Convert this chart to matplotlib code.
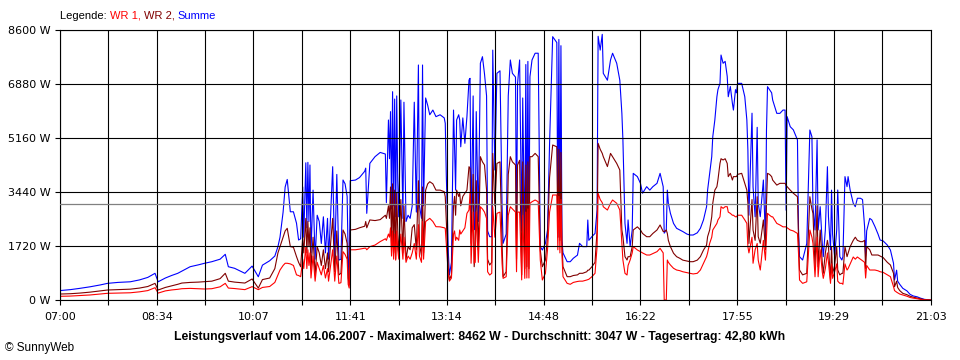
import matplotlib
matplotlib.use("Agg")
import matplotlib.pyplot as plt

plt.rcParams["font.family"] = ["DejaVu Sans"]

# Zeit in Minuten ab 07:00
t_min = [
    0, 10, 19, 29, 39, 46, 56, 68, 77, 85,
    92, 95, 102, 108, 114, 118, 126, 134, 140, 147,
    155, 160, 163, 169, 179, 186, 192, 196, 203, 208,
    211, 213, 216, 218, 220, 223, 226, 229, 231, 233,
    235, 236, 238, 239, 240, 241, 242, 243, 245, 247,
    249, 251, 253, 255, 257, 259, 260, 262, 264, 266,
    268, 270, 272, 274, 276, 278, 279, 280, 281, 286,
    290, 295, 296, 297, 300, 305, 310, 315, 316, 318,
    319, 320, 321, 322, 323, 324, 325, 326, 327, 328,
    330, 332, 333, 335, 337, 339, 341, 343, 345, 347,
    348, 350, 351, 352, 354, 356, 358, 361, 364, 368,
    372, 373, 374, 376, 377, 379, 381, 382, 383, 384,
    386, 387, 388, 390, 392, 394, 396, 397, 398, 400,
    401, 402, 403, 405, 407, 409, 411, 413, 414, 416,
    418, 419, 421, 423, 426, 428, 429, 432, 434, 436,
    438, 441, 442, 443, 445, 447, 448, 450, 451, 452,
    453, 454, 455, 457, 460, 463, 465, 467, 470, 472,
    474, 477, 481, 482, 483, 484, 485, 486, 487, 491,
    494, 497, 501, 503, 506, 510, 511, 512, 515, 518,
    520, 521, 523, 525, 526, 530, 533, 535, 539, 542,
    544, 545, 547, 549, 550, 552, 554, 555, 559, 562,
    564, 568, 571, 574, 578, 581, 584, 585, 587, 588,
    589, 591, 594, 597, 600, 603, 607, 610, 613, 617,
    620, 623, 626, 627, 629, 631, 632, 634, 636, 637,
    639, 640, 642, 644, 646, 647, 649, 651, 652, 654,
    655, 656, 660, 663, 665, 666, 667, 670, 671, 673,
    675, 676, 678, 681, 683, 684, 685, 687, 689, 690,
    694, 697, 700, 702, 703, 704, 707, 710, 714, 715,
    716, 719, 723, 726, 728, 729, 731, 733, 734, 736,
    738, 739, 741, 743, 744, 746, 747, 748, 750, 752,
    753, 755, 757, 758, 760, 762, 763, 765, 768, 770,
    772, 775, 777, 779, 780, 781, 784, 786, 789, 792,
    794, 797, 801, 804, 807, 808, 810, 811, 813, 816,
    820, 823, 826, 830, 833, 837, 843,
]

summe = [
    300, 330, 370, 420, 480, 530, 560, 580, 640, 720,
    850, 580, 700, 780, 850, 920, 1060, 1120, 1170, 1220,
    1300, 1455, 1060, 1010, 850, 1080, 740, 1110, 1250, 1400,
    1700, 2000, 2800, 3600, 3840, 2810, 2810, 2443, 1911, 1950,
    3600, 2000, 4370, 2300, 4385, 2500, 4300, 1500, 3500, 1300,
    2700, 2500, 1800, 2650, 1500, 2600, 1300, 2700, 4246, 1300,
    4000, 1270, 1300, 3822, 3700, 3300, 1400, 550, 3800, 3820,
    3900, 4100, 4200, 2760, 4353, 4565, 4700, 4650, 3100, 5733,
    4500, 6000, 2900, 6635, 3000, 6400, 2650, 6500, 3800, 2650,
    6370, 2600, 6300, 2500, 2700, 2600, 3000, 6300, 2800, 7485,
    3000, 2600, 7485, 3000, 6435, 6200, 5900, 6050, 5840, 5900,
    5800, 5628, 3980, 1500, 800, 1200, 6050, 4880, 3500, 5733,
    5900, 5733, 4880, 5800, 4990, 5850, 7007, 7060, 2230, 6500,
    2300, 2230, 6000, 2500, 7540, 7750, 7200, 6500, 2200, 2016,
    2016, 7960, 4140, 7220, 7300, 3000, 1805, 2100, 6500, 7645,
    7220, 7100, 2200, 6900, 7645, 2200, 6435, 1600, 7500, 1700,
    7600, 1700, 7113, 7645, 7860, 7860, 1700, 1592, 1805, 2230,
    4990, 8387, 8200, 2000, 8300, 2000, 8100, 1900, 1500, 1220,
    1220, 1330, 1430, 1805, 1700, 1700, 2548, 1900, 2020, 2120,
    2866, 8400, 7960, 8462, 7220, 7000, 7645, 7860, 7540, 7000,
    5945, 5100, 2440, 1805, 2550, 1700, 2230, 4034, 3930, 3716,
    3400, 3610, 3500, 3610, 3716, 4034, 3610, 2130, 2230, 3500,
    3080, 2760, 2440, 2283, 2230, 2180, 2100, 2070, 2070, 2140,
    2283, 2550, 2972, 3500, 4034, 4565, 5200, 5733, 6475, 6700,
    6900, 7803, 7540, 7600, 7120, 6475, 6800, 6265, 6050, 6700,
    6600, 6900, 6900, 6475, 5733, 4780, 2700, 5950, 3600, 2650,
    5500, 3080, 2654, 3822, 1910, 5400, 6795, 6700, 6600, 6370,
    5945, 5945, 6050, 6050, 2860, 5840, 5520, 5420, 5100, 2280,
    1380, 1274, 1800, 5415, 5200, 2972, 2230, 5100, 2230, 2972,
    1805, 1380, 2230, 4246, 2654, 1600, 3500, 2100, 1380, 2230,
    3504, 1380, 1274, 1380, 3930, 3610, 3930, 3504, 3080, 2972,
    3240, 3240, 3200, 2335, 1400, 2200, 2600, 2550, 2340, 2100,
    1911, 1880, 1750, 1593, 1168, 637, 950, 600, 500, 372,
    290, 180, 130, 100, 60, 20, 0,
]

wr2 = [
    190, 200, 220, 250, 290, 318, 330, 345, 380, 430,
    530, 318, 400, 450, 500, 540, 560, 570, 583, 600,
    680, 850, 600, 570, 540, 670, 380, 650, 700, 1000,
    1500, 1700, 2000, 2200, 2283, 1700, 1680, 1380, 1200, 1060,
    2000, 1500, 2600, 1500, 2500, 1700, 2300, 1000, 2000, 800,
    1700, 1500, 1100, 1600, 1000, 1500, 900, 1800, 2600, 900,
    2200, 800, 850, 2230, 2100, 1800, 700, 480, 2230, 2250,
    2300, 2350, 2500, 2300, 2550, 2530, 2560, 2700, 2600, 3000,
    2600, 3600, 1700, 3700, 1500, 3500, 1300, 3400, 2200, 1400,
    3200, 1500, 3000, 1300, 1700, 1600, 2300, 2400, 1600, 3800,
    1800, 1400, 3600, 1500, 3500, 3700, 3768, 3700, 3500, 3500,
    3450, 3290, 2500, 1000, 640, 800, 3000, 3300, 2700, 3500,
    3300, 3400, 3000, 3300, 3397, 3500, 4246, 4193, 1805, 4000,
    1060, 1500, 3800, 1600, 4565, 4400, 4300, 3500, 1300, 1115,
    1200, 4670, 3000, 4350, 4400, 1805, 743, 900, 4000, 4565,
    4400, 4300, 1300, 4300, 4450, 800, 4400, 1000, 4300, 1060,
    4400, 1000, 4565, 4565, 4670, 4565, 1593, 1060, 1274, 2020,
    3900, 4937, 4880, 2000, 4800, 1900, 4700, 1800, 1060, 743,
    743, 780, 800, 850, 850, 900, 950, 950, 1060, 1200,
    2230, 4990, 4800, 4670, 4565, 4250, 4670, 4565, 4350, 4140,
    2230, 2020, 1380, 1274, 1380, 1380, 1700, 2230, 2330, 2230,
    2120, 2016, 2016, 2120, 2230, 2390, 2180, 2180, 2230, 2120,
    1900, 1700, 1490, 1380, 1330, 1270, 1240, 1220, 1220, 1270,
    1380, 1590, 1750, 2016, 2230, 2650, 3080, 3500, 3610, 3822,
    4353, 4500, 4460, 4500, 4350, 3930, 4034, 3822, 3930, 3930,
    3930, 4000, 4034, 3716, 3500, 3080, 1800, 3200, 2230, 1900,
    3290, 2016, 1805, 2550, 1600, 3080, 4034, 4000, 3930, 3820,
    3660, 3716, 3716, 3716, 3650, 3610, 3500, 3400, 3290, 2000,
    955, 800, 850, 3290, 2900, 2760, 1060, 3000, 1060, 2230,
    1200, 850, 1500, 1900, 1700, 637, 1700, 850, 1100, 1700,
    955, 800, 850, 850, 1700, 1380, 1490, 1700, 1900, 2000,
    1900, 1858, 1858, 1900, 1000, 1700, 1600, 1433, 1433, 1433,
    1400, 1350, 1200, 1115, 850, 425, 600, 400, 300, 212,
    170, 120, 90, 60, 40, 10, 0,
]

wr1 = [
    118, 125, 140, 160, 190, 213, 220, 230, 260, 300,
    392, 220, 290, 320, 340, 360, 370, 360, 350, 360,
    420, 530, 380, 365, 330, 425, 330, 400, 430, 560,
    800, 955, 1100, 1170, 1170, 1150, 1100, 800, 780, 743,
    1300, 1000, 1700, 1000, 1600, 1100, 1500, 700, 1400, 600,
    1200, 1000, 800, 1100, 700, 1000, 600, 1100, 1600, 600,
    1400, 530, 550, 1540, 1450, 1300, 500, 380, 1600, 1600,
    1620, 1650, 1650, 1600, 1700, 1750, 1860, 1950, 1900, 2100,
    2000, 2300, 1400, 2200, 1300, 2100, 1270, 2200, 1600, 1300,
    2100, 1300, 2000, 1200, 1400, 1300, 1500, 1800, 1300, 2400,
    1400, 1200, 2500, 1300, 2500, 2550, 2600, 2500, 2335, 2330,
    2300, 2283, 1800, 800, 600, 700, 2100, 2200, 1900, 2000,
    1900, 2230, 2100, 2200, 2300, 2760, 2866, 3397, 1170, 2800,
    1170, 1200, 2800, 1200, 2970, 2900, 2800, 2600, 900, 796,
    850, 2970, 2000, 2760, 2800, 1170, 690, 743, 2700, 2970,
    2900, 2800, 900, 2800, 2800, 640, 2700, 690, 2800, 700,
    2900, 700, 3080, 3130, 3185, 3130, 1274, 637, 850, 1600,
    2800, 3344, 3344, 1600, 3300, 1500, 3200, 1400, 743, 531,
    500, 560, 590, 600, 600, 637, 650, 660, 743, 850,
    1700, 3397, 3200, 3100, 2970, 2866, 3080, 3185, 3080, 2866,
    1805, 1274, 850, 796, 1100, 1274, 1500, 1700, 1593, 1540,
    1500, 1433, 1433, 1480, 1540, 1645, 1500, 0, 0, 1274,
    1200, 1115, 1010, 955, 935, 900, 870, 850, 830, 850,
    955, 1170, 1380, 1500, 1805, 2000, 2230, 2335, 2440, 2550,
    2650, 2972, 2920, 2972, 2972, 2800, 2760, 2700, 2700, 2650,
    2650, 2700, 2700, 2550, 2440, 1700, 1500, 2000, 1170, 1600,
    1800, 1270, 955, 1900, 1270, 2020, 2760, 2700, 2650, 2650,
    2440, 2390, 2330, 2330, 2330, 2300, 2230, 2200, 2120, 1500,
    637, 530, 580, 2230, 2000, 1805, 740, 2000, 740, 1600,
    900, 690, 1000, 1500, 1200, 531, 1150, 690, 900, 1150,
    600, 531, 531, 500, 1150, 955, 1000, 1150, 1370, 1300,
    1370, 1300, 1250, 1200, 700, 1100, 955, 955, 955, 930,
    900, 880, 800, 743, 425, 300, 250, 230, 190, 160,
    120, 80, 60, 40, 20, 5, 0,
]

durchschnitt = 3047
x_labels = ["07:00", "08:34", "10:07", "11:41", "13:14",
            "14:48", "16:22", "17:55", "19:29", "21:03"]
y_ticks = [0, 1720, 3440, 5160, 6880, 8600]
dauer = 843  # 07:00 - 21:03

titel = ("Leistungsverlauf vom 14.06.2007 - Maximalwert: 8462 W - "
         "Durchschnitt: 3047 W - Tagesertrag: 42,80 kWh")
TXT_FONT = ["Liberation Sans", "DejaVu Sans"]

fig = plt.figure(figsize=(9.6, 3.6), dpi=100)
ax = fig.add_axes([60 / 960, 60 / 360, 870.7 / 960, 270 / 360])

ax.plot(t_min, summe, color="#0000FF", lw=0.8, zorder=1.5)
ax.plot(t_min, wr2, color="#800000", lw=0.8, zorder=1.6)
ax.plot(t_min, wr1, color="#FF0000", lw=0.8, zorder=1.7)
ax.axhline(durchschnitt, color="#808080", lw=0.9, zorder=2.6)

ax.set_xlim(0, dauer)
ax.set_ylim(0, 8600)
step = dauer / (len(x_labels) - 1)
ax.set_xticks([i * step for i in range(len(x_labels))])
ax.set_xticklabels(x_labels)
ax.set_xticks([(i + 0.5) * step for i in range(len(x_labels) - 1)], minor=True)
ax.set_yticks(y_ticks)
ax.set_yticklabels([f"{v} W" for v in y_ticks])

ax.set_axisbelow(False)
ax.grid(True, which="both", color="black", lw=0.8)
ax.tick_params(which="both", direction="out", length=3.8, width=0.8,
               color="black", labelsize=8)
ax.tick_params(axis="x", pad=5)
ax.tick_params(axis="y", pad=3)
for s in ax.spines.values():
    s.set_color("black"); s.set_linewidth(0.8)

# Legende: mehrfarbiger Text
renderer = fig.canvas.get_renderer()
x0 = 60 / 960
for txt, col in [("Legende: ", "black"), ("WR 1, ", "#FF0000"),
                 ("WR 2, ", "#800000"), ("Summe", "#0000FF")]:
    tt = fig.text(x0, 1 - 16 / 360, txt, color=col, fontsize=8,
                  va="center", family=TXT_FONT)
    bb = tt.get_window_extent(renderer=renderer)
    x0 = bb.x1 / fig.bbox.width

fig.text(0.5, 1 - 337 / 360, titel, ha="center", va="center",
         fontsize=8.8, fontweight="bold", family=TXT_FONT)
fig.text(5 / 960, 1 - 348 / 360, "© SunnyWeb", va="center", fontsize=8.5,
         family=TXT_FONT)

fig.savefig("out.png", dpi=100)
